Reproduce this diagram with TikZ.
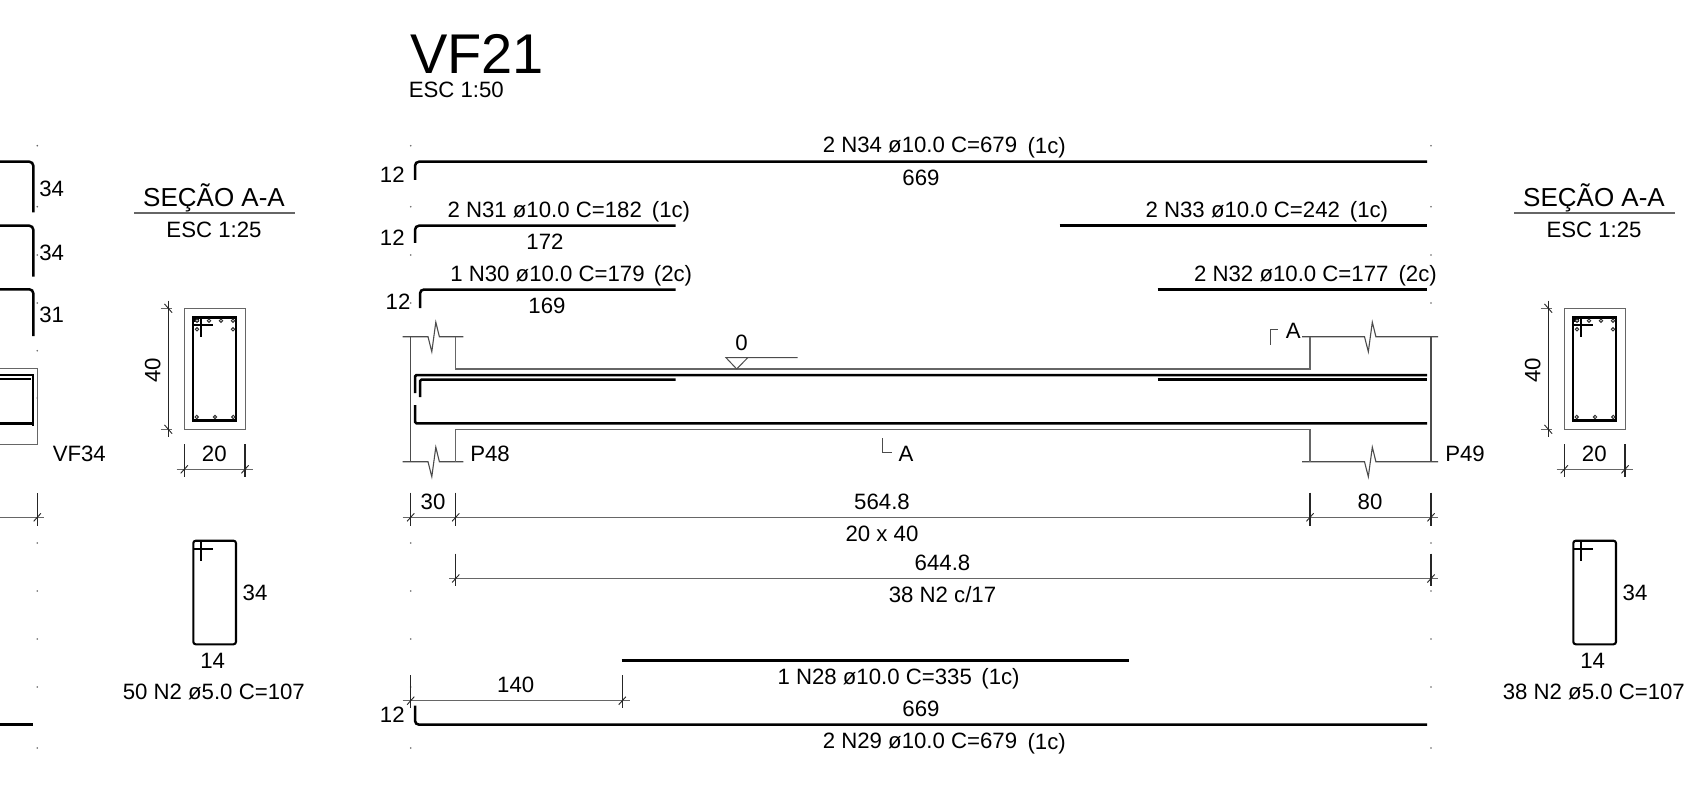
\documentclass[tikz,border=0pt]{standalone}
\usepackage{fontspec}
\setmainfont{Liberation Sans}
\newcommand{\fsN}{\fontsize{22.2}{24}\selectfont}
\tikzset{
  lbl/.style={inner sep=0pt,outer sep=0pt,font=\fsN,text=black,yshift=-1pt},
  ttl/.style={inner sep=0pt,outer sep=0pt,font=\fontsize{26}{28}\selectfont,text=black,yshift=-1pt},
  bar/.style={draw=black,line width=2.5pt,rounded corners=4pt},
  stir/.style={draw=black,line width=1.9pt,rounded corners=2pt},
  conc/.style={draw=black!60,line width=1.4pt},
  dimline/.style={draw=black!60,line width=1.4pt},
  ext/.style={draw=black!85,line width=1.1pt},
  slash/.style={draw=black!85,line width=.9pt},
  dotmark/.style={fill=black!60,draw=none},
  hole/.style={draw=black!80,line width=1pt,fill=white}
}
\newcommand{\tickh}[2]{\draw[slash] (#1,#2) ++(-3.6,4) -- ++(7.2,-8);}
\newcommand{\tickv}[2]{\draw[slash] (#1,#2) ++(-3.8,-4.4) -- ++(7.6,8.8);}
% break symbol on a horizontal line
\newcommand{\brk}[4]{% x1, x2, y, xshift of zigzag
  \draw[conc,draw=black!70,line width=1.1pt] (#1,#3) -- (#4,#3) -- ++(3.8,15) -- ++(4,-29.5) -- ++(3.6,14.5) -- (#2,#3);}
\newcommand{\secfig}[3]{% offset, bar label, names prefix
 \begin{scope}[xshift=#1pt]
  \node[ttl] (#3title) at (214,196.7) {SEÇÃO A-A};
  \draw[conc] (134.3,213) -- (295,213);
  \node[lbl] (#3esc) at (214,229.3) {ESC 1:25};
  \draw[conc,line width=1.2pt] (184.3,308.3) rectangle (245.7,429.3);
  \draw[draw=black,line width=2.2pt] (193,317.5) rectangle (236.2,420.5);
  \draw[stir,rounded corners=0pt] (192.7,325) -- (212.7,325);
  \draw[stir,rounded corners=0pt] (201,317.3) -- (201,336.7);
  \fill[black] (192.7,317.3) rectangle (199,322);
  \foreach \px/\py in {197/320.7,209/320.7,221/320.7,233/320.7,197/329.3,233/329.3,196.7/417,215/417,233.3/417}
    \draw[hole] (\px,\py) circle (1.7);
  % vertical dimension
  \draw[ext] (168.3,300.7) -- (168.3,436.7);
  \draw[dimline] (160.7,308.3) -- (172,308.3);
  \draw[dimline] (160.7,429.3) -- (172,429.3);
  \tickv{168.3}{308.3}\tickv{168.3}{429.3}
  \node[lbl,rotate=90,yshift=1pt] (#3forty) at (153.7,369.3) {40};
  % horizontal dimension
  \draw[dimline] (176.7,469.3) -- (252.7,469.3);
  \draw[ext] (184.3,444) -- (184.3,477);
  \draw[ext] (245,444) -- (245,477);
  \tickh{184.3}{469.3}\tickh{245}{469.3}
  \node[lbl] (#3twenty) at (214.3,453.3) {20};
  % stirrup
  \draw[stir,line width=2.1pt,rounded corners=2.5pt] (193.3,540.7) rectangle (236,644.3);
  \draw[draw=black,line width=1.7pt] (193.3,548.7) -- (212.7,548.7);
  \draw[draw=black,line width=1.7pt] (201,540.7) -- (201,560.7);
  \node[lbl] (#3h) at (255,591.7) {34};
  \node[lbl] (#3w) at (212.7,660) {14};
  \node[lbl] (#3bar) at (213.8,691.3) {#2};
 \end{scope}
}
\begin{document}
\begin{tikzpicture}[x=1pt,y=-1pt]
\useasboundingbox[fill=white] (0,0) rectangle (1685,786);

% small point marks
\foreach \dx in {37.3,410.7,1431}
 \foreach \dy in {145.7,206.7,255,303,543,591,639,687,748}
  \fill[dotmark] (\dx,\dy) circle (.9);
\foreach \dy in {350.7,398}
  \fill[dotmark] (37.3,\dy) circle (.9);

% titles
\node[inner sep=0pt,anchor=west,font=\fontsize{56}{58}\selectfont,text=black] (vf) at (410,53.7) {VF21};
\node[lbl,anchor=west,yshift=1pt] (esc) at (408.8,90) {ESC 1:50};

% ---- left partial drawing
\draw[bar] (-5,161.7) -- (33.3,161.7) -- (33.3,212.3);
\draw[bar] (-5,225.7) -- (33.3,225.7) -- (33.3,276.7);
\draw[bar] (-5,289.3) -- (33.3,289.3) -- (33.3,336);
\node[lbl] (l1) at (51.7,188.3) {34};
\node[lbl] (l2) at (51.7,251.7) {34};
\node[lbl] (l3) at (51.7,314) {31};
\draw[conc] (-5,368.7) -- (37.3,368.7) -- (37.3,444.3) -- (-5,444.3);
\draw[bar,rounded corners=0pt] (-5,375) -- (33,375) -- (33,426);
\draw[bar,rounded corners=0pt] (-5,379) -- (31,379);
\draw[bar,rounded corners=0pt] (-5,423.3) -- (33,423.3);
\node[lbl] (vf34) at (79.3,453) {VF34};
\draw[dimline] (-5,517.3) -- (44,517.3);
\draw[ext] (37.3,493) -- (37.3,525.7);
\tickh{37.3}{517.3}
\draw[bar,rounded corners=0pt] (-5,724.3) -- (33,724.3);

% ---- sections
\secfig{0}{50 N2 ø5.0 C=107}{sa}
\secfig{1380}{38 N2 ø5.0 C=107}{sb}

% ---- rebars above the beam
\draw[bar] (415,180) -- (415,161.7) -- (1427,161.7);
\node[lbl] (n34) at (920,144) {2 N34 ø10.0 C=679};
\node[lbl] (n34c) at (1046.7,147) {(1c)};
\node[lbl] (n34l) at (921,177.3) {669};
\node[lbl] (n34h) at (392.3,173.3) {12};

\draw[bar] (415,243) -- (415,225.7) -- (675.7,225.7);
\node[lbl] (n31) at (544.7,209) {2 N31 ø10.0 C=182};
\node[lbl] (n31c) at (671,210.7) {(1c)};
\node[lbl] (n31l) at (545,240.3) {172};
\node[lbl] (n31h) at (392.3,236.3) {12};

\draw[bar] (420,308) -- (420,289.5) -- (675.7,289.5);
\node[lbl] (n30) at (547.5,273) {1 N30 ø10.0 C=179};
\node[lbl] (n30c) at (673,274.7) {(2c)};
\node[lbl] (n30l) at (547,304.7) {169};
\node[lbl] (n30h) at (398,300.7) {12};

\draw[bar] (1059.5,225.7) -- (1427,225.7);
\node[lbl] (n33) at (1242.8,208.5) {2 N33 ø10.0 C=242};
\node[lbl] (n33c) at (1369,210.5) {(1c)};

\draw[bar] (1157.7,289.5) -- (1427,289.5);
\node[lbl] (n32) at (1291.3,273) {2 N32 ø10.0 C=177};
\node[lbl] (n32c) at (1417.7,274.7) {(2c)};

% ---- beam elevation
\draw[ext,draw=black!70] (410.7,336.7) -- (410.7,461.7);
\draw[ext,draw=black!70] (1431,336.7) -- (1431,461.7);
\brk{402.7}{463.3}{336.7}{428}
\brk{402.7}{463.3}{461.7}{428}
\brk{1302}{1438}{336.7}{1364.5}
\brk{1302}{1438}{461.7}{1364.5}
\draw[conc] (455.7,336.7) -- (455.7,369) -- (1310,369) -- (1310,336.7);
\draw[conc] (455.7,461.7) -- (455.7,429.3) -- (1310,429.3) -- (1310,461.7);
% level mark
\draw[draw=black!70,line width=1pt] (736.7,369) -- (726,357.7) -- (797.6,357.7);
\draw[draw=black!70,line width=1pt] (747.7,357.7) -- (736.7,369);
\node[lbl] (lev) at (741.5,342) {0};
% section marks
\draw[draw=black!70,line width=1pt] (1277.7,329) -- (1270,329) -- (1270,345);
\node[lbl] (secA) at (1293.3,329.7) {A};
\draw[draw=black!70,line width=1pt] (882,438) -- (882,452) -- (892,452);
\node[lbl] (secB) at (906,453) {A};
\node[lbl] (p48) at (490,452.7) {P48};
\node[lbl] (p49) at (1465,452.7) {P49};
% bars inside beam
\draw[bar,rounded corners=1.5pt] (415,393) -- (415,375) -- (1427,375);
\draw[bar,rounded corners=1.5pt] (420,397) -- (420,379.7) -- (675.7,379.7);
\draw[bar] (1157.7,379.7) -- (1427,379.7);
\draw[bar,rounded corners=1.5pt] (415,405) -- (415,423.3) -- (1427,423.3);

% ---- dimensions
\draw[dimline] (402.7,517.3) -- (1438,517.3);
\foreach \tx in {410.7,455.7,1310,1431} {
  \draw[ext] (\tx,492.7) -- (\tx,525.7);
  \tickh{\tx}{517.3}
}
\node[lbl] (d30) at (433,501.3) {30};
\node[lbl] (d564) at (882,501.3) {564.8};
\node[lbl] (d80) at (1370,501.3) {80};
\node[lbl] (dsec) at (882,533) {20 x 40};

\draw[dimline] (449,578.5) -- (1438,578.5);
\foreach \tx in {455.7,1431} {
  \draw[ext] (\tx,553.5) -- (\tx,585.5);
  \tickh{\tx}{578.5}
}
\node[lbl] (d644) at (942.5,562) {644.8};
\node[lbl] (dst) at (942.5,594) {38 N2 c/17};

% ---- rebars below
\draw[bar] (621.7,660.7) -- (1129.4,660.7);
\node[lbl] (n28) at (874.7,676) {1 N28 ø10.0 C=335};
\node[lbl] (n28c) at (1000.5,678) {(1c)};

\draw[dimline] (402.7,700.7) -- (630,700.7);
\foreach \tx in {410.7,622.3} {
  \draw[ext] (\tx,675) -- (\tx,708);
  \tickh{\tx}{700.7}
}
\node[lbl] (d140) at (515.7,684.3) {140};

\draw[bar] (415,705.7) -- (415,724.7) -- (1427,724.7);
\node[lbl] (n29h) at (392.3,714) {12};
\node[lbl] (n29l) at (921,708) {669};
\node[lbl] (n29) at (920,739.5) {2 N29 ø10.0 C=679};
\node[lbl] (n29c) at (1046.7,742.5) {(1c)};
\end{tikzpicture}
\end{document}
